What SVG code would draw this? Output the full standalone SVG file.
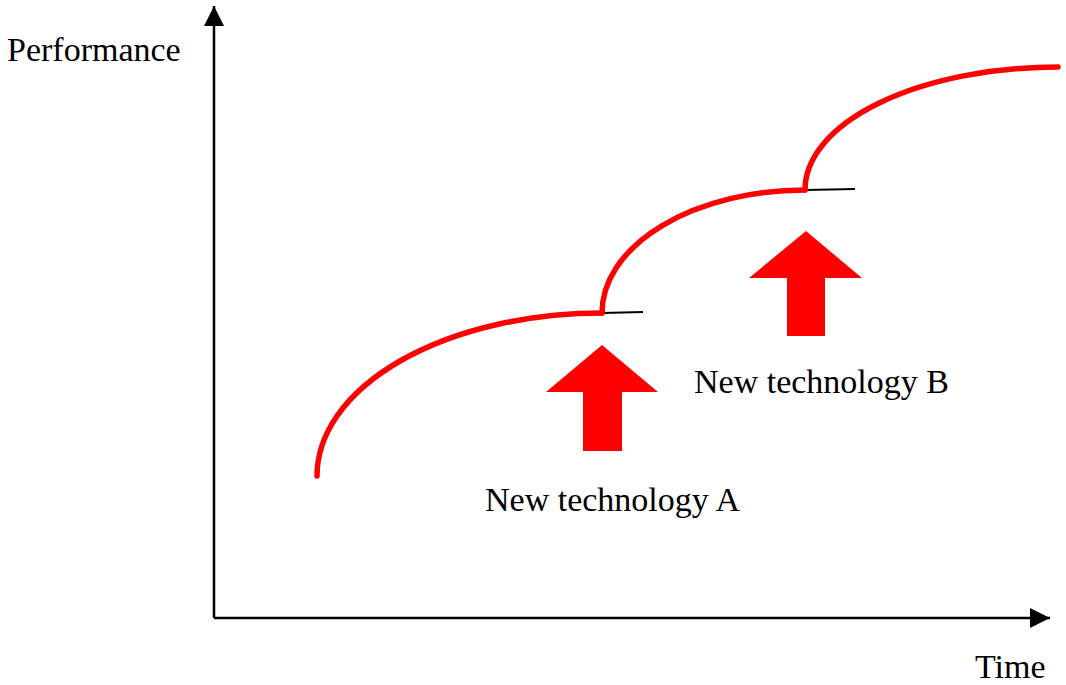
<svg xmlns="http://www.w3.org/2000/svg" width="1066" height="685" viewBox="0 0 1066 685">
<style>
.axis{stroke:#000;stroke-width:2.5;fill:none}
.curve{stroke:#f00;stroke-width:5.5;fill:none;stroke-linecap:round}
.flat{stroke:#000;stroke-width:2;fill:none}
.big{fill:#f00}
text{font-family:"Liberation Serif","Times New Roman",serif;font-size:34px;fill:#000}
</style>
<defs>
<marker id="ah" markerWidth="20" markerHeight="20" refX="18" refY="9" orient="auto" markerUnits="userSpaceOnUse" viewBox="0 0 18 18">
<path d="M0,0 L18,9 L0,18 z" fill="#000"/>
</marker>
</defs>
<g id="connectors">
<line class="axis" x1="214" y1="618" x2="214" y2="6" marker-end="url(#ah)"/>
<line class="axis" x1="214" y1="618" x2="1050" y2="618" marker-end="url(#ah)"/>
</g>
<g id="curves">
<line class="flat" x1="602" y1="313" x2="643" y2="312"/>
<line class="flat" x1="805" y1="190" x2="855" y2="189"/>
<path class="curve" d="M317,476 A285,163 0 0 1 602,313"/>
<path class="curve" d="M602,313 A203,123 0 0 1 805,190"/>
<path class="curve" d="M805,190 A253,123 0 0 1 1058,67"/>
</g>
<g id="arrowA">
<polygon class="big" points="602,345 658,392 622,392 622,451 583,451 583,392 546,392"/>
</g>
<g id="arrowB">
<polygon class="big" points="806,231 862,278 825,278 825,336 787,336 787,278 749,278"/>
</g>
<g id="labels">
<text x="7" y="61">Performance</text>
<text x="485" y="511">New technology A</text>
<text x="694" y="393">New technology B</text>
<text x="975" y="678">Time</text>
</g>
</svg>
